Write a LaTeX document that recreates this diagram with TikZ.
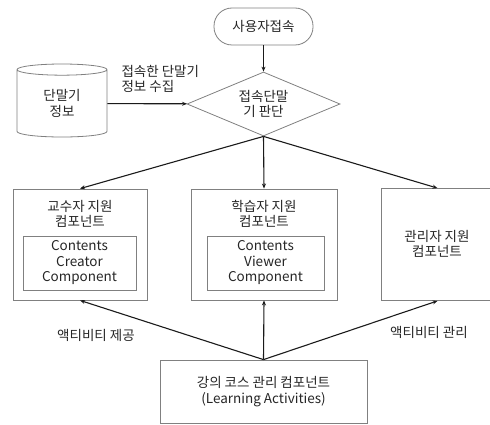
\documentclass[tikz,border=0pt]{standalone}
\usepackage{fontspec}
\setmainfont{Noto Sans CJK KR}
\usetikzlibrary{positioning, arrows.meta, shapes.geometric}
\definecolor{BoxGray}{HTML}{808080}
\definecolor{LineBlack}{HTML}{1A1A1A}

\begin{document}
\begin{tikzpicture}[x=1pt, y=-1pt,
    every node/.style={font=\fontsize{13.5}{15.5}\selectfont, text=black!85, align=center},
    box/.style={draw=BoxGray, line width=0.8pt, inner sep=0pt},
    flow/.style={draw=LineBlack, line width=1.1pt, -{Stealth[length=5pt, width=4pt]}}]
  \useasboundingbox (0,0) rectangle (490,425);
  % Start and decision
  \node[box, rounded corners=18pt, minimum width=99pt, minimum height=37pt] (access) at (263.5,26.5) {사용자접속};
  \node[box, diamond, aspect=2.4, minimum width=153pt, minimum height=64pt] (judge) at (263.5,104) {접속단말\\기 판단};
  % Terminal info store
  \node[box, cylinder, shape border rotate=90, aspect=0.3, minimum width=90pt, minimum height=73pt] (store) at (62,103.5) {단말기\\정보};
  \node[anchor=west, align=left] (collect) at (118,79) {접속한 단말기\\정보 수집};
  % Support components
  \node[box, minimum width=134pt, minimum height=111pt] (prof) at (80,244.5) {};
  \node (proftitle) at (80,214) {교수자 지원\\컴포넌트};
  \node[box, minimum width=113pt, minimum height=54pt] (creator) at (79.5,263) {Contents\\Creator\\Component};
  \node[box, minimum width=146pt, minimum height=111pt] (learn) at (264,244.5) {};
  \node (learntitle) at (264,214) {학습자 지원\\컴포넌트};
  \node[box, minimum width=117pt, minimum height=54pt] (viewer) at (265.5,263) {Contents\\Viewer\\Component};
  \node[box, minimum width=113pt, minimum height=112pt] (admin) at (437.5,244.5) {};
  \node (admintitle) at (437,244) {관리자 지원\\컴포넌트};
  % Course management
  \node[box, minimum width=207pt, minimum height=63pt] (course) at (263.5,391.5) {강의 코스 관리 컴포넌트\\(Learning Activities)};
  \node (provide) at (96,335) {액티비티 제공};
  \node (manage) at (429,332) {액티비티 관리};
  % Connectors
  \draw[flow] (access) -- (judge);
  \draw[flow] (store) -- (judge);
  \draw[flow] (judge.south) -- (prof.north);
  \draw[flow] (judge.south) -- (learn.north);
  \draw[flow] (judge.south) -- (admin.north);
  \draw[flow] (course.north) -- (prof.south);
  \draw[flow] (course.north) -- (learn.south);
  \draw[flow] (course.north) -- (admin.south);
\end{tikzpicture}
\end{document}
